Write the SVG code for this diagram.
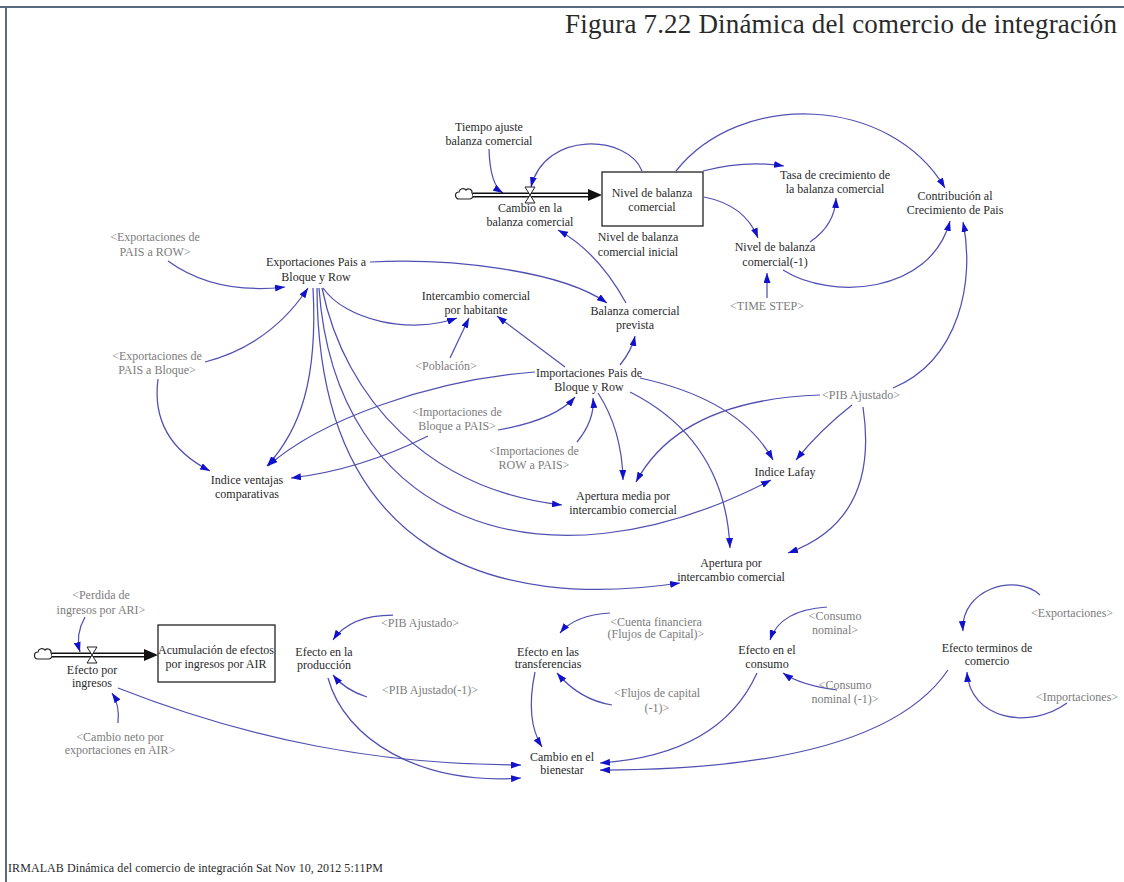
<svg xmlns="http://www.w3.org/2000/svg" width="1124" height="882" viewBox="0 0 1124 882">
<style>
text{font-family:"Liberation Serif","Times New Roman",serif;font-size:12px;text-anchor:middle;fill:#2a2a2a}
.g{fill:#7c7c7c}
.c{fill:none;stroke:#5050b2;stroke-width:1.25;marker-end:url(#ah)}
.pipeo{fill:none;stroke:#111;stroke-width:5}
.pipei{fill:none;stroke:#fff;stroke-width:2}
.stock{fill:#fff;stroke:#222;stroke-width:1.3}
.cloud{fill:#fff;stroke:#222;stroke-width:1.2}
.valve{fill:#fff;stroke:#222;stroke-width:1}
</style>
<defs>
<marker id="ah" viewBox="0 0 10 7" refX="10" refY="3.5" markerWidth="10" markerHeight="7" markerUnits="userSpaceOnUse" orient="auto"><path d="M0,0 L10,3.5 L0,7 z" fill="#1212cc"/></marker>
</defs>
<rect width="1124" height="882" fill="#fff"/>
<path d="M0,7 H1124 M6,7 V882" stroke="#5a6a82" stroke-width="2" fill="none"/>
<text x="1117" y="33" style="font-size:27px;text-anchor:end" textLength="552">Figura 7.22 Dinámica del comercio de integración</text>
<text x="8" y="872" style="font-size:12px;text-anchor:start" textLength="375">IRMALAB Dinámica del comercio de integración   Sat Nov 10, 2012 5:11PM</text>

<g id="connectors">
<path class="c" d="M489,149 Q490,185 503,193"/>
<path class="c" d="M642,171 C628,135 545,130 531,187"/>
<path class="c" d="M703,171 Q745,160 784,166"/>
<path class="c" d="M704,197 Q745,205 758,238"/>
<path class="c" d="M676,171 C740,90 890,95 945,188"/>
<path class="c" d="M810,242 Q835,225 836,198"/>
<path class="c" d="M783,270 C830,300 930,295 950,221"/>
<path class="c" d="M767,298 L767,273"/>
<path class="c" d="M893,388 C960,360 975,280 963,222"/>
<path class="c" d="M626,303 Q598,252 558,230"/>

<path class="c" d="M168,261 Q215,295 285,287"/>
<path class="c" d="M205,362 Q270,345 308,288"/>
<path class="c" d="M158,379 Q150,440 210,471"/>
<path class="c" d="M370,262 C450,258 560,270 607,303"/>
<path class="c" d="M323,288 C345,320 410,335 457,318"/>
<path class="c" d="M450,358 L469,318"/>
<path class="c" d="M565,367 L497,316"/>
<path class="c" d="M620,365 Q632,350 635,336"/>
<path class="c" d="M313,288 C318,380 300,430 267,466"/>
<path class="c" d="M535,372 C430,380 320,420 268,466"/>
<path class="c" d="M428,436 Q360,470 291,478"/>
<path class="c" d="M322,288 C345,400 430,490 562,505"/>
<path class="c" d="M319,288 C335,520 540,600 771,480"/>
<path class="c" d="M317,288 C318,560 500,610 680,583"/>
<path class="c" d="M498,430 Q555,420 575,397"/>
<path class="c" d="M577,442 Q595,420 593,398"/>
<path class="c" d="M598,393 Q622,430 623,480"/>
<path class="c" d="M630,392 Q725,440 730,548"/>
<path class="c" d="M640,378 Q740,400 773,460"/>
<path class="c" d="M852,405 Q820,430 796,460"/>
<path class="c" d="M820,395 Q680,400 636,482"/>
<path class="c" d="M863,407 Q880,520 788,553"/>

<path class="c" d="M85,617 Q75,635 80,652"/>
<path class="c" d="M118,723 Q120,705 112,693"/>
<path class="c" d="M118,688 C250,740 380,765 521,765"/>
<path class="c" d="M328,678 C345,740 420,785 521,778"/>
<path class="c" d="M393,615 Q350,615 333,640"/>
<path class="c" d="M367,697 Q345,690 333,675"/>
<path class="c" d="M610,613 Q575,615 560,633"/>
<path class="c" d="M612,705 Q580,700 557,673"/>
<path class="c" d="M535,672 Q525,720 542,747"/>
<path class="c" d="M827,607 Q780,610 770,640"/>
<path class="c" d="M837,690 Q800,685 783,673"/>
<path class="c" d="M757,673 Q720,755 600,763"/>
<path class="c" d="M948,670 Q880,770 600,770"/>
<path class="c" d="M1040,595 C1015,572 960,590 963,631"/>
<path class="c" d="M1067,703 C1030,730 970,720 967,672"/>
</g>

<g id="flow-top">
<path class="cloud" d="M459,199 a3.5,3.5 0 0 1 0,-7 a4,4 0 0 1 7,-2 a3.5,3.5 0 0 1 6,3 a3.5,3.5 0 0 1 -2,6 z"/>
<path class="pipeo" d="M473,195 H590"/>
<path class="pipei" d="M473,195 H591"/>
<path d="M588,189 L602,195 L588,201 Z" fill="#111"/>
<path class="valve" d="M525,187 H535 L525,203 H535 Z"/>
<text><tspan x="530" y="212">Cambio en la</tspan><tspan x="530" y="226">balanza comercial</tspan></text>
</g>
<g id="stock-nivel">
<rect class="stock" x="602" y="172" width="101" height="54"/>
<text><tspan x="652" y="197">Nivel de balanza</tspan><tspan x="652" y="211">comercial</tspan></text>
</g>
<g id="tiempo-ajuste"><text><tspan x="489" y="131">Tiempo ajuste</tspan><tspan x="489" y="145">balanza comercial</tspan></text></g>
<g id="nivel-inicial"><text><tspan x="638" y="241">Nivel de balanza</tspan><tspan x="638" y="256">comercial inicial</tspan></text></g>
<g id="tasa"><text><tspan x="835" y="179">Tasa de crecimiento de</tspan><tspan x="835" y="193">la balanza comercial</tspan></text></g>
<g id="contribucion"><text><tspan x="955" y="200">Contribución al</tspan><tspan x="955" y="214">Crecimiento de Pais</tspan></text></g>
<g id="nivel-1"><text><tspan x="775" y="251">Nivel de balanza</tspan><tspan x="775" y="266">comercial(-1)</tspan></text></g>
<g id="time-step"><text class="g" x="767" y="310">&lt;TIME STEP&gt;</text></g>

<g id="exp-row"><text class="g"><tspan x="155" y="241">&lt;Exportaciones de</tspan><tspan x="155" y="256">PAIS a ROW&gt;</tspan></text></g>
<g id="exportaciones"><text><tspan x="316" y="266">Exportaciones Pais a</tspan><tspan x="316" y="281">Bloque y Row</tspan></text></g>
<g id="intercambio"><text><tspan x="476" y="300">Intercambio comercial</tspan><tspan x="476" y="314">por habitante</tspan></text></g>
<g id="balanza-prevista"><text><tspan x="635" y="315">Balanza comercial</tspan><tspan x="635" y="329">prevista</tspan></text></g>
<g id="exp-bloque"><text class="g"><tspan x="157" y="360">&lt;Exportaciones de</tspan><tspan x="157" y="374">PAIS a Bloque&gt;</tspan></text></g>
<g id="poblacion"><text class="g" x="446" y="370">&lt;Población&gt;</text></g>
<g id="importaciones"><text><tspan x="589" y="377">Importaciones Pais de</tspan><tspan x="589" y="391">Bloque y Row</tspan></text></g>
<g id="pib-ajustado"><text class="g" x="861" y="399">&lt;PIB Ajustado&gt;</text></g>
<g id="imp-bloque"><text class="g"><tspan x="457" y="416">&lt;Importaciones de</tspan><tspan x="457" y="430">Bloque a PAIS&gt;</tspan></text></g>
<g id="imp-row"><text class="g"><tspan x="534" y="455">&lt;Importaciones de</tspan><tspan x="534" y="469">ROW a PAIS&gt;</tspan></text></g>
<g id="indice-ventajas"><text><tspan x="247" y="484">Indice ventajas</tspan><tspan x="247" y="498">comparativas</tspan></text></g>
<g id="indice-lafay"><text x="785" y="476">Indice Lafay</text></g>
<g id="apertura-media"><text><tspan x="623" y="500">Apertura media por</tspan><tspan x="623" y="514">intercambio comercial</tspan></text></g>
<g id="apertura"><text><tspan x="731" y="567">Apertura por</tspan><tspan x="731" y="581">intercambio comercial</tspan></text></g>

<g id="flow-bottom">
<path class="cloud" d="M38,659 a3.5,3.5 0 0 1 0,-7 a4,4 0 0 1 7,-2 a3.5,3.5 0 0 1 6,3 a3.5,3.5 0 0 1 -2,6 z"/>
<path class="pipeo" d="M52,655 H146"/>
<path class="pipei" d="M52,655 H147"/>
<path d="M144,649 L158,655 L144,661 Z" fill="#111"/>
<path class="valve" d="M87,647 H97 L87,663 H97 Z"/>
<text><tspan x="92" y="674">Efecto por</tspan><tspan x="92" y="687">ingresos</tspan></text>
</g>
<g id="stock-acumulacion">
<rect class="stock" x="158" y="625" width="117" height="57"/>
<text><tspan x="216" y="654">Acumulación de efectos</tspan><tspan x="216" y="668">por ingresos por AIR</tspan></text>
</g>
<g id="perdida"><text class="g"><tspan x="101" y="599">&lt;Perdida de</tspan><tspan x="101" y="614">ingresos por ARI&gt;</tspan></text></g>
<g id="cambio-neto"><text class="g"><tspan x="120" y="741">&lt;Cambio neto por</tspan><tspan x="120" y="754">exportaciones en AIR&gt;</tspan></text></g>
<g id="efecto-produccion"><text><tspan x="324" y="656">Efecto en la</tspan><tspan x="324" y="669">producción</tspan></text></g>
<g id="pib-ajustado-2"><text class="g" x="420" y="627">&lt;PIB Ajustado&gt;</text></g>
<g id="pib-ajustado-1"><text class="g" x="430" y="694">&lt;PIB Ajustado(-1)&gt;</text></g>
<g id="efecto-transferencias"><text><tspan x="548" y="656">Efecto en las</tspan><tspan x="548" y="668">transferencias</tspan></text></g>
<g id="cuenta-financiera"><text class="g"><tspan x="656" y="626">&lt;Cuenta financiera</tspan><tspan x="656" y="638">(Flujos de Capital)&gt;</tspan></text></g>
<g id="flujos-capital"><text class="g"><tspan x="657" y="697">&lt;Flujos de capital</tspan><tspan x="657" y="712">(-1)&gt;</tspan></text></g>
<g id="efecto-consumo"><text><tspan x="767" y="654">Efecto en el</tspan><tspan x="767" y="668">consumo</tspan></text></g>
<g id="consumo-nominal"><text class="g"><tspan x="835" y="620">&lt;Consumo</tspan><tspan x="835" y="634">nominal&gt;</tspan></text></g>
<g id="consumo-nominal-1"><text class="g"><tspan x="845" y="689">&lt;Consumo</tspan><tspan x="845" y="703">nominal (-1)&gt;</tspan></text></g>
<g id="efecto-terminos"><text><tspan x="987" y="652">Efecto terminos de</tspan><tspan x="987" y="665">comercio</tspan></text></g>
<g id="exportaciones-2"><text class="g" x="1072" y="617">&lt;Exportaciones&gt;</text></g>
<g id="importaciones-2"><text class="g" x="1077" y="701">&lt;Importaciones&gt;</text></g>
<g id="cambio-bienestar"><text><tspan x="562" y="761">Cambio en el</tspan><tspan x="562" y="774">bienestar</tspan></text></g>
</svg>
